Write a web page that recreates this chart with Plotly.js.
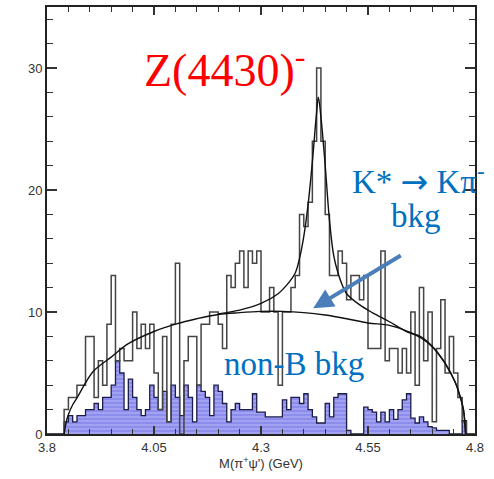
<!DOCTYPE html>
<html><head><meta charset="utf-8">
<script src="https://cdn.plot.ly/plotly-3.0.1.min.js"></script>
<style>html,body{margin:0;padding:0;background:#fff}#c{width:494px;height:479px}</style>
</head><body><div id="c"></div>
<script>
// Histogram binning (GeV)
const binStart = 3.84;
const binWidth = 0.01;
// Data histogram counts (black)
const dataCounts = [2,3,3,4,4,8,8,3,6,4, 9,13,6,7,6,6,10,7,9,7, 9,5,2,8,1,9,14,0,6,8,
  8,4,9,9,10,10,9,7,13,12, 14,15,12,15,14,15,10,10,12,10, 4,10,10,12,13,18,17,19,24,30,
  24,18,13,13,15,14,11,13,13,11, 13,7,7,7,15,6,7,7,5,7, 5,10,4,12,6,10,1,7,11,5, 8,5,3,1];
// non-B background (blue)
const nonBCounts = [1,1.5,1,1.5,1.5,2,2,2.5,2,3, 3,4,6,5,2,4.5,3,2,1.5,2, 4,3,2,3.5,1,4,3,1.5,4,3,
  1,4,3.5,3,1.5,4,3.5,2.5,1,2, 2.5,2,2,2,3.3,1.8,1.8,1.4,1.4,1.4, 1.4,2.8,2,3,3,2.5,3.3,2,1.4,0.9,
  0.9,2.5,1.4,3,3.3,3.3,0.3,0,0,0, 2.2,2,1.8,1,1.8,1,2,1.2,2,2.8, 3.3,1.3,0.9,1.4,1,0.6,0.5,0.3,0.3,0.3, 0,0,0,1.1];
// K* background fit curve (read points)
const bkgX = [3.84,3.845,3.85,3.86,3.87,3.89,3.91,3.95,3.99,4.05,4.10,4.15,4.20,4.25,4.30,4.35,4.40,4.45,4.50,4.55,4.60,4.65,4.675,4.70,4.714,4.73,4.753,4.765,4.773,4.778];
const bkgY = [0,1.0,1.6,2.4,2.95,4.2,5.2,6.3,7.4,8.4,9.0,9.45,9.8,9.95,10.05,10.05,9.95,9.75,9.45,9.1,8.9,8.3,7.85,7.15,6.6,5.8,4.3,3.1,2.0,0];
// Signal + background fit curve (read points)
const totX = [4.20,4.25,4.30,4.34,4.36,4.38,4.39,4.40,4.41,4.42,4.43,4.434,4.44,4.45,4.46,4.47,4.48,4.49,4.50,4.53,4.56,4.60,4.64,4.675,4.70,4.714,4.73,4.753,4.765,4.773,4.778];
const totY = [9.85,10.15,10.7,11.5,12.2,13.2,14.4,16.2,18.8,22.3,26.4,27.6,26.0,22.0,17.5,14.6,13.2,12.2,11.5,10.6,9.95,9.2,8.4,7.95,7.2,6.6,5.8,4.3,3.1,2.0,0];
const xTickVals = [3.8,4.05,4.3,4.55,4.8];
const xTickText = ["3.8","4.05","4.3","4.55","4.8"];
const yTickVals = [0,10,20,30];

function stepXY(counts){
  const xs=[3.8], ys=[0];
  for(let i=0;i<counts.length;i++){ xs.push(binStart+i*binWidth); ys.push(counts[i]); }
  xs.push(binStart+counts.length*binWidth); ys.push(0);
  xs.push(4.8); ys.push(0);
  return {xs, ys};
}
const d = stepXY(dataCounts), b = stepXY(nonBCounts);

const traces = [
  {x:b.xs, y:b.ys, type:'scatter', mode:'lines', line:{shape:'hv', color:'#1c1c4a', width:1.3},
   fill:'tozeroy', fillcolor:'#8c8cec',
   fillpattern:{shape:'-', bgcolor:'#8c8cec', fgcolor:'#b8b8f6', size:4, solidity:0.25},
   hoverinfo:'skip'},
  {x:d.xs, y:d.ys, type:'scatter', mode:'lines', line:{shape:'hv', color:'#444', width:1.5}, hoverinfo:'skip'},
  {x:bkgX, y:bkgY, type:'scatter', mode:'lines', line:{shape:'spline', color:'#111', width:1.4}, hoverinfo:'skip'},
  {x:totX, y:totY, type:'scatter', mode:'lines', line:{shape:'spline', color:'#111', width:1.4}, hoverinfo:'skip'}
];

const serif = '"Liberation Serif", "Times New Roman", serif';
const sans = '"Liberation Sans", Arial, sans-serif';
const layout = {
  width:494, height:479,
  margin:{l:47, r:19, t:7, b:45},
  paper_bgcolor:'#fff', plot_bgcolor:'#fff',
  showlegend:false,
  font:{family:sans, size:13, color:'#333'},
  xaxis:{range:[3.8,4.8], tickvals:xTickVals, ticktext:xTickText, ticks:'inside', ticklen:8, tickwidth:1.2, tickcolor:'#333',
    tickfont:{family:sans, size:13, color:'#333'},
    minor:{dtick:0.05, tick0:3.8, ticks:'inside', ticklen:5, tickcolor:'#333', tickwidth:1},
    showline:true, linecolor:'#222', linewidth:2, mirror:'allticks', showgrid:false, zeroline:false,
    title:{text:"M(π<sup>+</sup>ψ') (GeV)", font:{family:sans, size:13, color:'#333'}, standoff:3}},
  yaxis:{range:[0,35], tickvals:yTickVals, ticks:'inside', ticklen:10, tickwidth:1.2, tickcolor:'#333',
    tickfont:{family:sans, size:13, color:'#333'},
    minor:{dtick:2, tick0:0, ticks:'inside', ticklen:6, tickcolor:'#333', tickwidth:1},
    showline:true, linecolor:'#222', linewidth:2, mirror:'allticks', showgrid:false, zeroline:false},
  annotations:[
    {x:4.214, y:30.1, xref:'x', yref:'y', text:'Z(4430)<sup>-</sup>', showarrow:false,
     font:{family:serif, size:46, color:'#ff0000'}},
    {x:4.668, y:20.9, xref:'x', yref:'y', text:'K* <span style="font-family:\'DejaVu Sans\'">→</span> Kπ<sup>-</sup>', showarrow:false,
     font:{family:serif, size:33, color:'#0070c0'}},
    {x:4.663, y:17.9, xref:'x', yref:'y', text:'bkg', showarrow:false,
     font:{family:serif, size:33, color:'#0070c0'}},
    {x:4.378, y:5.7, xref:'x', yref:'y', text:'non-B bkg', showarrow:false,
     font:{family:serif, size:33, color:'#0070c0'}},
    {x:4.422, y:10.3, xref:'x', yref:'y', ax:4.63, ay:14.7, axref:'x', ayref:'y', text:'',
     showarrow:true, arrowhead:2, arrowsize:1, arrowwidth:4, arrowcolor:'#4a7ebb'},
    {x:4.785, y:-0.2, xref:'x', yref:'y', text:'7', showarrow:false, xanchor:'right', yanchor:'bottom',
     font:{family:sans, size:28, color:'#9a9a9a'}}
  ]
};
Plotly.newPlot('c', traces, layout, {staticPlot:true, displayModeBar:false});
</script></body></html>
